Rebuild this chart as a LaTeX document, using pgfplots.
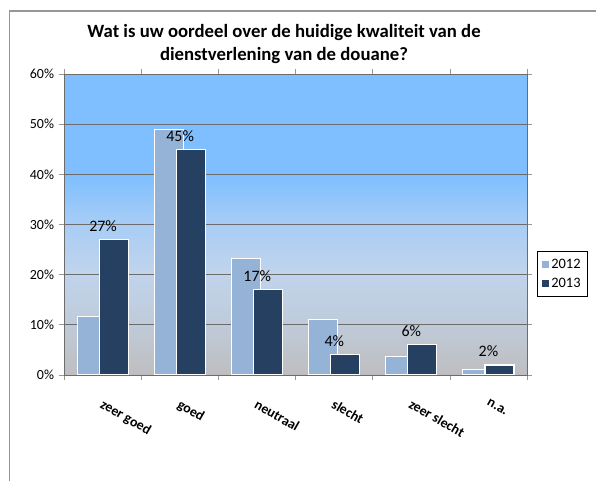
\documentclass[border=0pt]{standalone}
\usepackage{pgfplots}
\pgfplotsset{compat=1.18}
\usepackage{fontspec}
\setmainfont{Carlito}

\definecolor{c2012}{RGB}{149,179,215}
\definecolor{c2013}{RGB}{37,64,97}
\definecolor{bgtop}{RGB}{128,191,255}
\definecolor{bgmid}{RGB}{168,205,245}
\definecolor{bglow}{RGB}{192,212,236}
\definecolor{bgbot}{RGB}{190,190,192}
\definecolor{framegray}{RGB}{150,150,150}

\pgfdeclareverticalshading{plotbg}{100bp}{color(0bp)=(bgbot); color(25bp)=(bgbot);
  color(34bp)=(bglow!60!bgbot); color(42bp)=(bglow); color(50bp)=(bgmid);
  color(58bp)=(bgtop); color(75bp)=(bgtop); color(100bp)=(bgtop)}

\begin{document}
\begin{tikzpicture}
\path[use as bounding box] (0,0) rectangle (596bp,481bp);
% outer frame of the chart
\draw[framegray, line width=1.2bp] (9.5bp,0) |- (596bp,470bp);

% title
\node[font=\fontsize{18.8}{23.5}\selectfont\bfseries, align=center] at (284bp,437bp)
  {Wat is uw oordeel over de huidige kwaliteit van de\\dienstverlening van de douane?};

\begin{axis}[
    scale only axis, width=462.5bp, height=301bp,
    anchor=south west, at={(64.5bp,106bp)},
    xmin=-0.5, xmax=5.5, ymin=0, ymax=60,
    xtick={0,...,5},
    xticklabels={zeer goed, goed, neutraal, slecht, zeer slecht, n.a.},
    major x tick style={draw=none},
    minor xtick={-0.5,0.5,...,5.5},
    tick align=outside, major tick length=5bp, minor tick length=5bp,
    tick style={framegray, line width=0.8bp},
    ytick={0,10,...,60},
    yticklabel={\pgfmathprintnumber{\tick}\%},
    /pgf/number format/assume math mode=true,
    ymajorgrids, grid style={draw=gray!85!black, line width=0.9bp},
    axis line style={draw=gray!85!black, line width=0.9bp},
    axis background/.style={shade, shading=plotbg},
    yticklabel style={font=\fontsize{14}{16}\selectfont, xshift=-2bp},
    xticklabel style={font=\fontsize{14}{16}\selectfont\bfseries,
        yshift=-14bp, rotate=-30, anchor=north west},
    bar width=0.377,
    legend style={at={(1.0216,0.413)}, anchor=north west,
        draw=black, line width=0.6bp, font=\fontsize{14.5}{17}\selectfont,
        inner xsep=5bp, inner ysep=6bp, row sep=4bp,
        legend cell align=left},
    legend image code/.code={\fill[#1, draw=none] (0bp,-3.4bp) rectangle (7bp,3.4bp);},
]
\addplot[ybar, bar shift=-0.143, fill=c2012, draw=white, line width=1.1bp]
  coordinates {(0,11.6) (1,49) (2,23.2) (3,11.1) (4,3.6) (5,1.1)};
\addlegendentry{2012}
\addplot[ybar, bar shift=0.143, fill=c2013, draw=white, line width=1.1bp,
    nodes near coords={\pgfmathprintnumber{\pgfplotspointmeta}\%},
    nodes near coords style={font=\fontsize{16}{18}\selectfont, text=black,
        anchor=south, yshift=4bp}]
  coordinates {(0,27) (1,45) (2,17) (3,4) (4,6) (5,2)};
\addlegendentry{2013}
\end{axis}
\end{tikzpicture}
\end{document}
